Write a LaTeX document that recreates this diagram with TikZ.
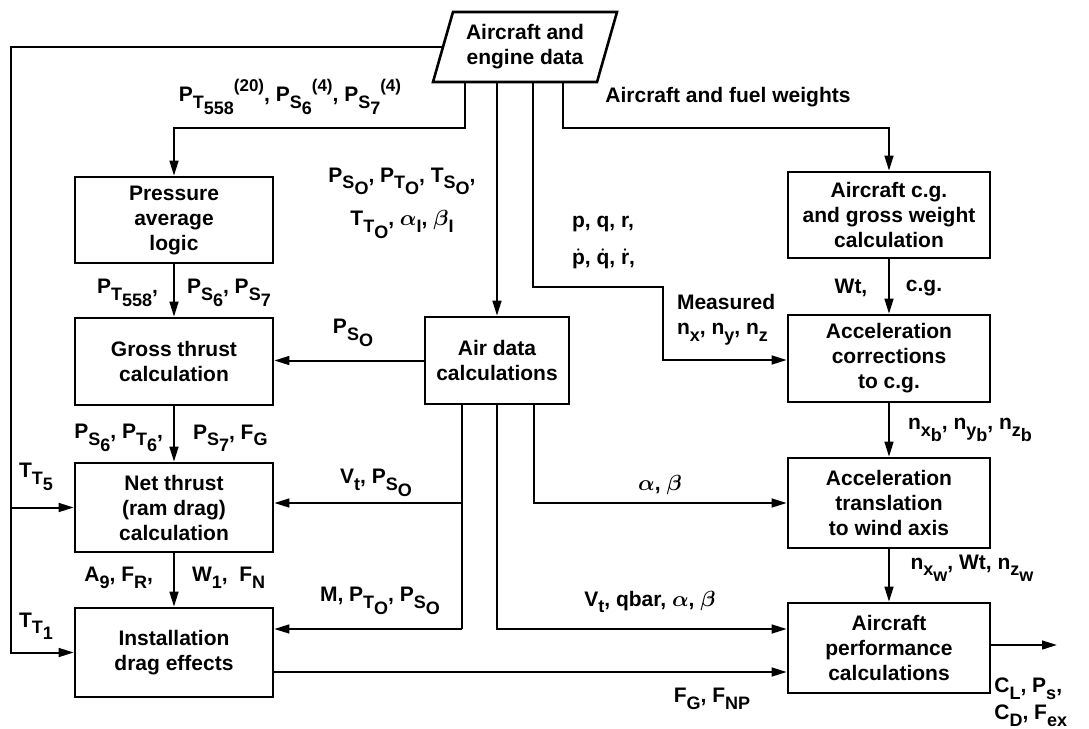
\documentclass[tikz,border=0pt]{standalone}
\usepackage{amsmath}
\usepackage{fontspec}
\setmainfont{Liberation Sans}
\usepackage{tikz}
\usetikzlibrary{arrows.meta,shapes.geometric}

% lowered and raised indices
\newcommand{\dn}[1]{\raisebox{-0.6ex}{\fontsize{9}{10}\selectfont #1}}
\newcommand{\up}[1]{\raisebox{0.9ex}{\fontsize{8.5}{10}\selectfont #1}}
\newcommand{\dt}[1]{\ensuremath{\dot{\text{#1}}}}
\newcommand{\bal}{$\boldsymbol{\alpha}$}
\newcommand{\bbe}{$\boldsymbol{\beta}$}

\begin{document}
\begin{tikzpicture}[x=0.5pt, y=-0.5pt, >={Triangle[length=7.5pt,width=4.4pt]},
    every node/.style={font=\bfseries\fontsize{10.5}{12.5}\selectfont},
    blk/.style={rectangle, draw, line width=1.3pt, align=center, inner sep=2pt},
    lft/.style={blk, minimum width=99pt},
    rgt/.style={blk, minimum width=101pt},
    wire/.style={line width=1pt},
    arr/.style={wire, ->}]
    \useasboundingbox (0,0) rectangle (1089,729);

    % Input data
    \node[trapezium, trapezium left angle=71, trapezium right angle=109, trapezium stretches body,
          draw, line width=1.3pt, minimum width=92pt, minimum height=35pt, align=center]
          (data) at (525,47) {Aircraft and\\engine data};

    % Engine column
    \node[lft, minimum height=43pt] (press) at (174,220) {Pressure\\average\\logic};
    \node[lft, minimum height=43.5pt] (gross) at (174,361.5) {Gross thrust\\calculation};
    \node[lft, minimum height=44.5pt] (net) at (174,507.5) {Net thrust\\(ram drag)\\calculation};
    \node[lft, minimum height=44.5pt] (inst) at (174,652.5) {Installation\\drag effects};

    % Air data
    \node[blk, minimum width=72pt, minimum height=43.5pt] (air) at (497,360.5) {Air data\\calculations};

    % Aircraft column
    \node[rgt, minimum height=43pt] (cg) at (889,215) {Aircraft c.g.\\and gross weight\\calculation};
    \node[rgt, minimum height=43.5pt] (acc) at (889,358.5) {Acceleration\\corrections\\to c.g.};
    \node[rgt, minimum height=45pt] (trans) at (889,503) {Acceleration\\translation\\to wind axis};
    \node[rgt, minimum height=45pt] (perf) at (889,648) {Aircraft\\performance\\calculations};

    % Bends of the wires
    \coordinate (bus) at (11,0);
    \coordinate (ka) at (465,128);
    \coordinate (kw) at (563,128);
    \coordinate (km) at (533,287);
    \coordinate (kn) at (663,360);
    \coordinate (kv) at (462,503);
    \coordinate (kt) at (462,629);
    \coordinate (kq) at (497,629);
    \coordinate (kb) at (534,503);
    \coordinate (ko) at (273,672);
    \coordinate (out) at (1057,645);

    % From the data block
    \draw[arr] (data.west) -| (bus |- inst.west) -- (inst.west);
    \draw[arr] (bus |- net.west) -- (net.west);
    \draw[arr] (data.south -| ka) -- (ka) -| (press.north);
    \draw[arr] (data.south -| air.north) -- (air.north);
    \draw[arr] (data.south -| km) -- (km) -| (kn) -- (kn -| acc.west);
    \draw[arr] (data.south -| kw) -- (kw) -| (cg.north);

    % From the air data block
    \draw[arr] (air.west) -- (air.west -| gross.east);
    \draw[wire] (air.south -| kv) -- (kt);
    \draw[arr] (kv) -- (kv -| net.east);
    \draw[arr] (kt) -- (kt -| inst.east);
    \draw[arr] (air.south) -- (kq) -- (kq -| perf.west);
    \draw[arr] (air.south -| kb) -- (kb) -- (kb -| trans.west);

    % Thrust chain
    \draw[arr] (press) -- (gross);
    \draw[arr] (gross) -- (net);
    \draw[arr] (net) -- (inst);
    \draw[arr] (inst.east |- ko) -- (ko -| perf.west);

    % Aircraft chain
    \draw[arr] (cg) -- (acc);
    \draw[arr] (acc) -- (trans);
    \draw[arr] (trans) -- (perf);
    \draw[arr] (perf.east |- out) -- (out);

    % Signal labels
    \node (lpt) at (290,97) {P\dn{T\dn{558}}\up{(20)}, P\dn{S\dn{6}}\up{(4)}, P\dn{S\dn{7}}\up{(4)}};
    \node (lwts) at (728,97) {Aircraft and fuel weights};
    \node[align=center] (lair) at (402,203) {P\dn{S\dn{O}}, P\dn{T\dn{O}}, T\dn{S\dn{O}},\\[7pt] T\dn{T\dn{O}}, \bal\dn{I}, \bbe\dn{I}};
    \node[align=left, anchor=west] (lrate) at (565,243) {p, q, r,\\[6pt] \dt{p}, \dt{q}, \dt{r},};
    \node[align=left, anchor=west] (lmeas) at (670,320) {Measured\\ n\dn{x}, n\dn{y}, n\dn{z}};
    \node (lwt) at (851,288) {Wt,};
    \node (lcg) at (924,288) {c.g.};
    \node (lnb) at (970,430) {n\dn{x\dn{b}}, n\dn{y\dn{b}}, n\dn{z\dn{b}}};
    \node (lab) at (660,485) {\bal, \bbe};
    \node (lnw) at (972,568) {n\dn{x\dn{w}}, Wt, n\dn{z\dn{w}}};
    \node (lvq) at (650,602) {V\dn{t}, qbar, \bal, \bbe};
    \node (lfg) at (712,699) {F\dn{G}, F\dn{NP}};
    \node[align=left, anchor=south west, inner sep=1pt] (lout) at (992,729) {C\dn{L}, P\dn{s},\\[1pt] C\dn{D}, F\dn{ex}};

    \node[anchor=east] (lpa) at (165,293) {P\dn{T\dn{558}},};
    \node[anchor=west] (lpb) at (180,293) {P\dn{S\dn{6}}, P\dn{S\dn{7}}};
    \node[anchor=east] (lga) at (170,438) {P\dn{S\dn{6}}, P\dn{T\dn{6}},};
    \node[anchor=west] (lgb) at (186,438) {P\dn{S\dn{7}}, F\dn{G}};
    \node (ltf) at (36,477) {T\dn{T\dn{5}}};
    \node (lvs) at (376,483) {V\dn{t}, P\dn{S\dn{O}}};
    \node (lps) at (353,333) {P\dn{S\dn{O}}};
    \node[anchor=east] (lna) at (160,578) {A\dn{9}, F\dn{R},};
    \node[anchor=west] (lnb2) at (185,578) {W\dn{1}, \ F\dn{N}};
    \node (lto) at (36,626) {T\dn{T\dn{1}}};
    \node (lmp) at (380,601) {M, P\dn{T\dn{O}}, P\dn{S\dn{O}}};
\end{tikzpicture}
\end{document}
